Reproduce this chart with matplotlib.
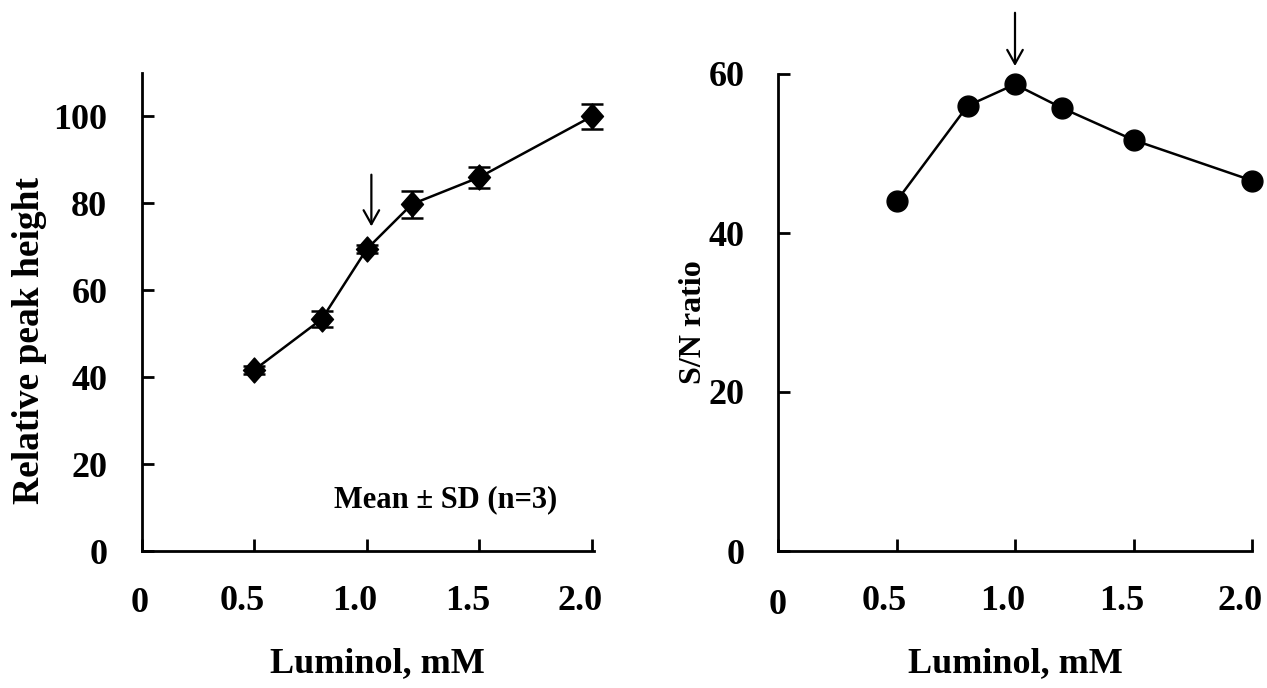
import matplotlib
matplotlib.use("Agg")
import matplotlib.pyplot as plt
from matplotlib.patches import FancyArrowPatch
from matplotlib.transforms import offset_copy
from matplotlib.path import Path

# ---------------- data ----------------
luminol = [0.5, 0.8, 1.0, 1.2, 1.5, 2.0]
rel_height = [41.7, 53.4, 69.5, 79.8, 86.0, 100.0]
rel_height_sd = [0.9, 1.9, 1.0, 3.1, 2.4, 2.8]
sn_ratio = [44.0, 56.0, 58.7, 55.7, 51.7, 46.6]

x_ticks = [0, 0.5, 1.0, 1.5, 2.0]
x_tick_labels = ["0", "0.5", "1.0", "1.5", "2.0"]
left_y_ticks = [0, 20, 40, 60, 80, 100]
right_y_ticks = [0, 20, 40, 60]
x_label = "Luminol, mM"
left_y_label = "Relative peak height"
right_y_label = "S/N ratio"
note_text = "Mean \u00b1 SD (n=3)"
arrow_left = (1.02, 86.6, 74.7)   # x, y_start, y_end
arrow_right = (1.0, 67.7, 61.0)

plt.rcParams["font.family"] = ["Liberation Serif", "DejaVu Serif"]
plt.rcParams["font.weight"] = "bold"

W, H = 1267, 688
fig = plt.figure(figsize=(W / 100, H / 100), dpi=100)
fig.patch.set_facecolor("white")

axL = fig.add_axes([142 / W, 137 / H, 452 / W, 478 / H])
axR = fig.add_axes([778 / W, 137 / H, 474 / W, 477 / H])

FS = 26
for ax in (axL, axR):
    for s in ("top", "right"):
        ax.spines[s].set_visible(False)
    for s in ("left", "bottom"):
        ax.spines[s].set_linewidth(2.0)
    ax.tick_params(direction="in", length=8.5, width=2.0, labelsize=FS)
    ax.set_xticks(x_ticks)
    ax.set_xticklabels([])

# left panel
diamond = Path([(-0.44, 0), (0, 0.5), (0.44, 0), (0, -0.5), (-0.44, 0)],
               [Path.MOVETO, Path.LINETO, Path.LINETO, Path.LINETO, Path.CLOSEPOLY])
eb = axL.errorbar(luminol, rel_height, yerr=rel_height_sd, color="black",
                  lw=1.8, elinewidth=1.8, capsize=8, capthick=1.8,
                  marker=diamond, markersize=18, markerfacecolor="black",
                  markeredgecolor="black", zorder=3)
for child in eb.get_children():
    child.set_clip_on(False)
axL.set_xlim(0, 2.01)
axL.set_ylim(0, 110)
axL.set_yticks(left_y_ticks)
axL.set_yticklabels([str(v) for v in left_y_ticks], fontsize=FS, fontweight="bold")
axL.tick_params(axis="y", pad=25)
axL.text(1.35, 10.1, note_text, fontsize=22, fontweight="bold",
         ha="center", va="baseline")
arrL = FancyArrowPatch((arrow_left[0], arrow_left[1]), (arrow_left[0], arrow_left[2]),
                       arrowstyle="->,head_length=0.5,head_width=0.28",
                       mutation_scale=20, lw=1.6, color="black",
                       shrinkA=0, shrinkB=0, clip_on=False)
axL.add_patch(arrL)

# right panel
axR.plot(luminol, sn_ratio, color="black", lw=1.8, marker="o", markersize=15,
         markerfacecolor="black", markeredgecolor="black", zorder=3, clip_on=False)
axR.set_xlim(0, 2.0)
axR.set_ylim(0, 60)
axR.set_yticks(right_y_ticks)
axR.set_yticklabels([str(v) for v in right_y_ticks], fontsize=FS, fontweight="bold")
axR.tick_params(axis="y", pad=24)
arrR = FancyArrowPatch((arrow_right[0], arrow_right[1]), (arrow_right[0], arrow_right[2]),
                       arrowstyle="->,head_length=0.5,head_width=0.28",
                       mutation_scale=20, lw=1.6, color="black",
                       shrinkA=0, shrinkB=0, clip_on=False)
axR.add_patch(arrR)

# x tick labels (placed via axis transform)
for ax, zero_dx, zero_dy in ((axL, -2, -52), (axR, 0, -54)):
    for v, lab in zip(x_ticks, x_tick_labels):
        if v == 0:
            tr = offset_copy(ax.get_xaxis_transform(), fig=fig, x=zero_dx, y=zero_dy, units="dots")
        else:
            tr = offset_copy(ax.get_xaxis_transform(), fig=fig, x=-12, y=-51, units="dots")
        ax.text(v, 0, lab, transform=tr, fontsize=FS, fontweight="bold",
                ha="center", va="center", clip_on=False)

# axis labels
fig.text(377 / W, 1 - 664 / H, x_label, fontsize=FS, fontweight="bold",
         ha="center", va="center")
fig.text(1015 / W, 1 - 664 / H, x_label, fontsize=FS, fontweight="bold",
         ha="center", va="center")
fig.text(30 / W, 1 - 340 / H, left_y_label, fontsize=27, fontweight="bold",
         rotation=90, ha="center", va="center")
fig.text(693 / W, 1 - 322 / H, right_y_label, fontsize=23, fontweight="bold",
         rotation=90, ha="center", va="center")

fig.savefig("out.png", dpi=100, facecolor="white")
